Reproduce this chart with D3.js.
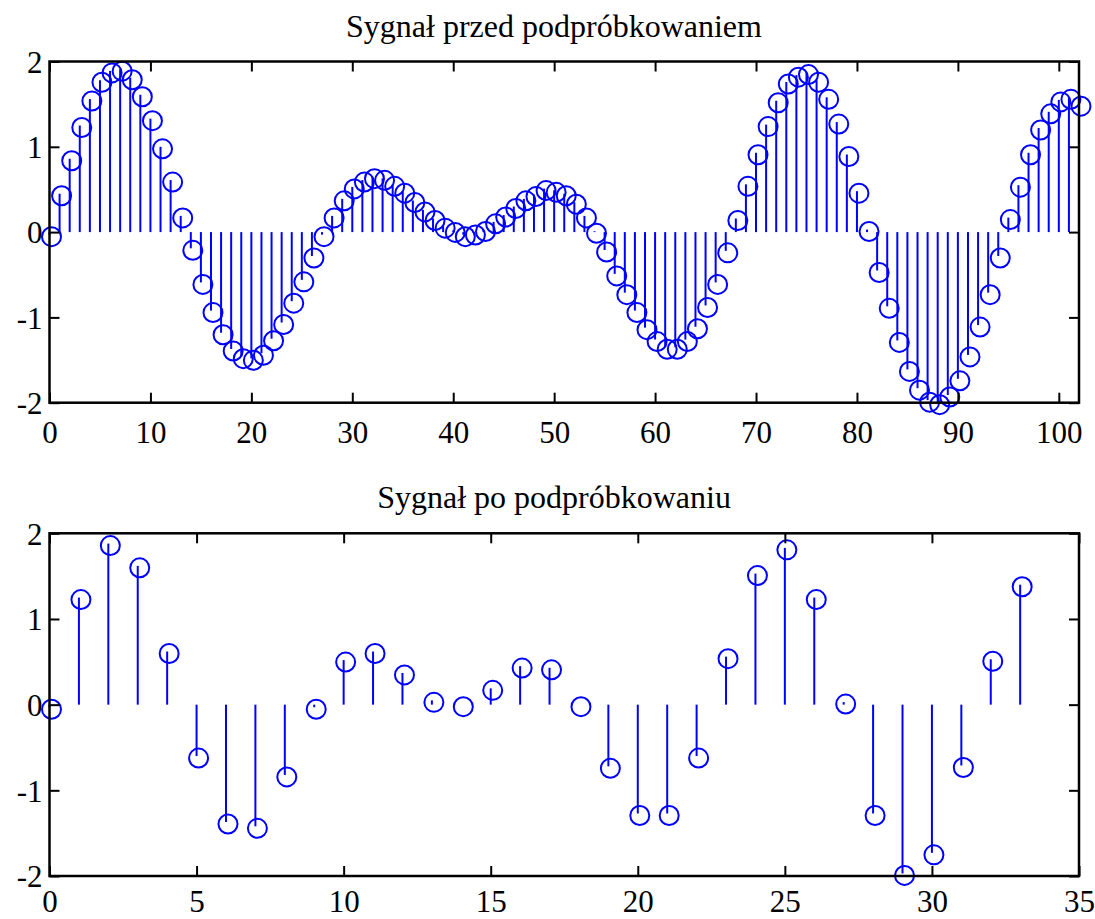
<!DOCTYPE html>
<html>
<head>
<meta charset="utf-8">
<script src="https://cdn.jsdelivr.net/npm/d3@7/dist/d3.min.js"></script>
<style>
  body { margin: 0; background: #fff; }
  svg { display: block; font-family: "Liberation Serif", "Times New Roman", serif; }
</style>
</head>
<body>
<div id="wykres"></div>
<script>
// sygnal przed podprobkowaniem, n = 0..102
const sygnal = [
  -0.03, 0.45, 0.86, 1.25, 1.56, 1.78, 1.89, 1.91, 1.81, 1.61,
  1.33, 1.00, 0.61, 0.19, -0.19, -0.59, -0.92, -1.18, -1.37, -1.46,
  -1.48, -1.42, -1.25, -1.06, -0.81, -0.56, -0.28, -0.03, 0.19, 0.39,
  0.53, 0.61, 0.65, 0.63, 0.56, 0.48, 0.37, 0.26, 0.16, 0.07,
  0.02, -0.03, -0.01, 0.03, 0.12, 0.20, 0.30, 0.39, 0.44, 0.51,
  0.49, 0.45, 0.35, 0.19, 0.01, -0.21, -0.49, -0.71, -0.92, -1.12,
  -1.26, -1.35, -1.35, -1.26, -1.11, -0.86, -0.59, -0.22, 0.16, 0.56,
  0.93, 1.26, 1.54, 1.76, 1.84, 1.87, 1.78, 1.58, 1.29, 0.91,
  0.48, 0.03, -0.45, -0.87, -1.27, -1.61, -1.83, -1.97, -2.00, -1.91,
  -1.72, -1.44, -1.09, -0.71, -0.28, 0.17, 0.55, 0.93, 1.22, 1.41,
  1.55, 1.58, 1.50
];

// sygnal po podprobkowaniu, k = 0..33
const podprobkowany = [
  -0.03, 1.25, 1.88, 1.62, 0.62, -0.60, -1.37, -1.42, -0.82, -0.03,
  0.52, 0.62, 0.37, 0.05, 0.00, 0.19, 0.45, 0.43, 0.00, -0.72,
  -1.27, -1.27, -0.60, 0.56, 1.53, 1.83, 1.25, 0.03, -1.27, -1.97,
  -1.73, -0.71, 0.53, 1.40
];

const tytuly = ["Sygnał przed podpróbkowaniem", "Sygnał po podpróbkowaniu"];
const ticksXGora = [0, 10, 20, 30, 40, 50, 60, 70, 80, 90, 100];
const ticksXDol = [0, 5, 10, 15, 20, 25, 30, 35];
const ticksY = [-2, -1, 0, 1, 2];

const width = 1095, height = 919;
const niebieski = "#0000ff";
const etykieta = d => String(d); // zwykly "-" zamiast unicode minus

const svg = d3.select("#wykres").append("svg")
  .attr("width", width).attr("height", height);

function rysujStem(cfg) {
  const { dane, xMax, ticksX, tytul, top, bottom, odstepX } = cfg;
  const left = 49.5, right = 1079;

  const x = d3.scaleLinear().domain([0, xMax]).range([left, right]);
  const y = d3.scaleLinear().domain([-2, 2]).range([bottom, top]);

  const g = svg.append("g");

  // tytul
  g.append("text")
    .attr("x", 554).attr("y", top - 25)
    .attr("text-anchor", "middle")
    .style("font-size", "32px")
    .text(tytul);

  // lodygi
  g.selectAll(".lodyga").data(dane).enter().append("line")
    .attr("class", "lodyga")
    .attr("x1", (d, i) => x(i)).attr("x2", (d, i) => x(i))
    .attr("y1", y(0)).attr("y2", d => y(d))
    .attr("stroke", niebieski).attr("stroke-width", 2);

  // kolka (lekko przesuniete jak w oryginale)
  g.selectAll(".kolko").data(dane).enter().append("circle")
    .attr("class", "kolko")
    .attr("cx", (d, i) => x(i) + 2).attr("cy", d => y(d) + 2)
    .attr("r", 9.5)
    .attr("fill", "none")
    .attr("stroke", niebieski).attr("stroke-width", 2);

  // osie - ticki do srodka na wszystkich bokach
  const osX = g.append("g").attr("transform", `translate(0,${bottom})`)
    .call(d3.axisBottom(x).tickValues(ticksX).tickSize(-10).tickSizeOuter(0).tickFormat(etykieta));
  osX.selectAll("text").attr("y", odstepX).attr("dy", null);

  g.append("g").attr("transform", `translate(0,${top})`)
    .call(d3.axisTop(x).tickValues(ticksX).tickSize(-10).tickSizeOuter(0).tickFormat(""));

  const osY = g.append("g").attr("transform", `translate(${left},0)`)
    .call(d3.axisLeft(y).tickValues(ticksY).tickSize(-10).tickSizeOuter(0).tickFormat(etykieta));
  osY.selectAll("text").attr("x", -7).attr("dy", "0.35em");

  g.append("g").attr("transform", `translate(${right},0)`)
    .call(d3.axisRight(y).tickValues(ticksY).tickSize(-10).tickSizeOuter(0).tickFormat(""));

  g.selectAll(".domain").remove();
  g.selectAll(".tick line").attr("stroke", "#000").attr("stroke-width", 2);
  g.selectAll(".tick text")
    .attr("fill", "#000")
    .style("font-size", "31px")
    .style("font-family", "'Liberation Serif', 'Times New Roman', serif");

  g.append("rect")
    .attr("x", left).attr("y", top)
    .attr("width", right - left).attr("height", bottom - top)
    .attr("fill", "none").attr("stroke", "#000").attr("stroke-width", 2.5);
}

rysujStem({ dane: sygnal, xMax: 102, ticksX: ticksXGora, tytul: tytuly[0], top: 61.5, bottom: 402.7, odstepX: 40 });
rysujStem({ dane: podprobkowany, xMax: 35, ticksX: ticksXDol, tytul: tytuly[1], top: 533.3, bottom: 876, odstepX: 36 });
</script>
</body>
</html>
